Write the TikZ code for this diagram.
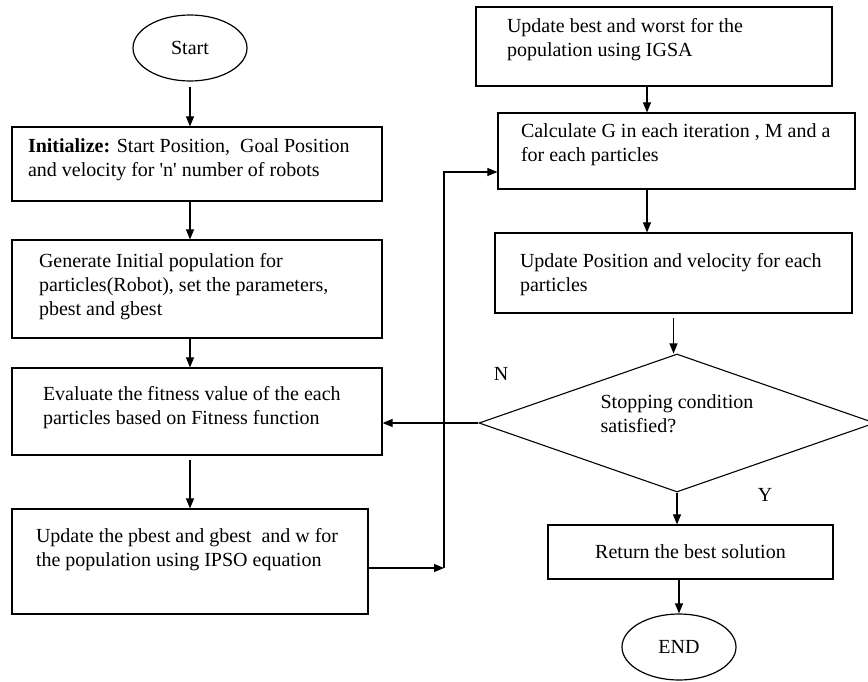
\documentclass[tikz,border=0pt]{standalone}
\usepackage{fontspec}
\setmainfont{Liberation Serif}[Ligatures=TeXOff]
\usetikzlibrary{shapes.geometric,arrows.meta}
\newcommand{\btxt}[2]{\makebox[#1][l]{\begin{tabular}[t]{@{}l@{}}#2\end{tabular}}}
\begin{document}
\begin{tikzpicture}[x=1pt,y=-1pt,
  every node/.style={font=\fontsize{20}{24}\selectfont},
  box/.style={draw, line width=1.2pt, rectangle, inner ysep=0pt},
  oval/.style={draw, line width=1.2pt, ellipse, minimum width=114pt, minimum height=66pt, inner sep=0pt},
  arr/.style={-{Triangle[length=10pt,width=8pt]}, line width=1.1pt}]
\useasboundingbox (0,0) rectangle (868,682);

\node[oval] (st) at (190,48) {Start};
\node[box, minimum height=74pt, inner xsep=16pt, text height=25.5pt, text depth=48.5pt] (b1) at (197,164)
  {\btxt{338pt}{\textbf{Initialize:} Start Position,~ Goal Position\\and velocity for 'n' number of robots}};
\node[box, minimum height=98pt, inner xsep=27pt, text height=27.5pt, text depth=70.5pt] (b2) at (197,289)
  {\btxt{316pt}{Generate Initial population for\\particles(Robot), set the parameters,\\pbest and gbest}};
\node[box, minimum height=87pt, inner xsep=31pt, text height=32.5pt, text depth=54.5pt] (b3) at (197,411.5)
  {\btxt{308pt}{Evaluate the fitness value of the each\\particles based on Fitness function}};
\node[box, minimum height=105pt, inner xsep=24pt, text height=33.5pt, text depth=71.5pt] (b4) at (190,561.5)
  {\btxt{308pt}{Update the pbest and gbest~ and w for\\the population using IPSO equation}};

\node[box, minimum height=79pt, inner xsep=31pt, text height=25.5pt, text depth=53.5pt] (b5) at (654,46.5)
  {\btxt{294pt}{Update best and worst for the\\population using IGSA}};
\node[box, minimum height=76pt, inner xsep=23pt, text height=24.5pt, text depth=51.5pt] (b6) at (676.5,151)
  {\btxt{311pt}{Calculate G in each iteration , M and a\\for each particles}};
\node[box, minimum height=80pt, inner xsep=25pt, text height=34.5pt, text depth=45.5pt] (b7) at (673.5,273)
  {\btxt{307pt}{Update Position and velocity for each\\particles}};
\node[draw, line width=1.1pt, diamond, shape aspect=2.87, minimum width=396pt, minimum height=138pt,
  inner sep=0pt, text height=15.5pt, text depth=44.5pt] (dec) at (677,423)
  {\begin{tabular}[t]{@{}l@{}}Stopping condition\\satisfied?\end{tabular}};
\node[box, minimum width=285pt, minimum height=54pt] (b8) at (690.5,552) {Return the best solution};
\node[oval] (en) at (679,647) {END};

\node (nl) at (501,374) {N};
\node (yl) at (765,495) {Y};

\draw[arr, shorten <=5pt] (st.south) -- (st.south |- b1.north);
\draw[arr] (b1.south -| st.south) -- (b2.north -| st.south);
\draw[arr] (b2.south -| st.south) -- (b3.north -| st.south);
\draw[arr, shorten <=4pt] (b3.south -| st.south) -- (b4.north -| st.south);
\coordinate (j) at (444,568);
\draw[arr] (b4.east |- j) -- (j);
\draw[arr] (j) |- (b6.west |- 0,172);
\draw[arr] (b5.south -| 647,0) -- (b6.north -| 647,0);
\draw[arr] (b6.south -| 647,0) -- (b7.north -| 647,0);
\draw[arr, shorten <=4pt] (b7.south) -- (b7.south |- dec.north);
\draw[arr] (dec.west) -- (dec.west -| b3.east);
\draw[arr] (dec.south) -- (dec.south |- b8.north);
\draw[arr] (b8.south -| en.north) -- (en.north);
\end{tikzpicture}
\end{document}
